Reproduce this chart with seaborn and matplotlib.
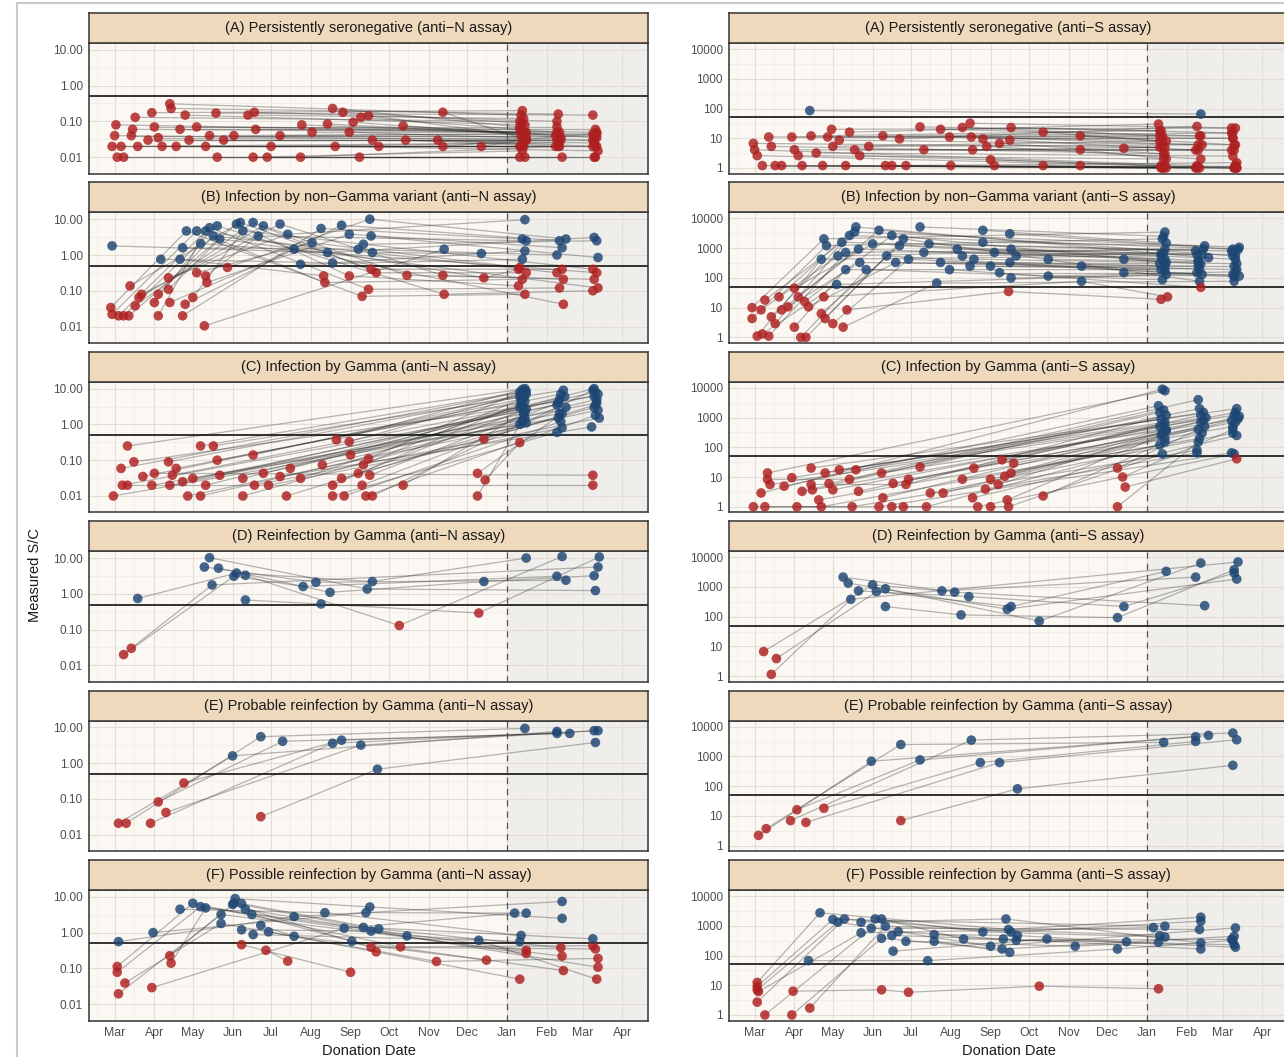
import numpy as np
import pandas as pd
import matplotlib
matplotlib.use("Agg")
import matplotlib.pyplot as plt
import matplotlib.dates as mdates
from matplotlib.ticker import FixedLocator, NullFormatter
from matplotlib.lines import Line2D
import seaborn as sns

# ---------------- data (day = days since 2020-03-01, value = measured S/C) -------------
TITLES_N = ["(A) Persistently seronegative (anti\u2212N assay)",
            "(B) Infection by non\u2212Gamma variant (anti\u2212N assay)",
            "(C) Infection by Gamma (anti\u2212N assay)",
            "(D) Reinfection by Gamma (anti\u2212N assay)",
            "(E) Probable reinfection by Gamma (anti\u2212N assay)",
            "(F) Possible reinfection by Gamma (anti\u2212N assay)"]
TITLES_S = [t.replace("anti\u2212N", "anti\u2212S") for t in TITLES_N]

N_TICKS = [0.01, 0.1, 1, 10]
N_TICK_LABELS = ["0.01", "0.10", "1.00", "10.00"]
S_TICKS = [1, 10, 100, 1000, 10000]
S_TICK_LABELS = ["1", "10", "100", "1000", "10000"]
N_CUTOFF = 0.5
S_CUTOFF = 50

A_N = [[(-2,.02),(316,.02)],[(1,.08),(318,.05)],[(0,.04),(345,.03)],[(2,.01),(375,.01)],
       [(7,.01),(316,.01)],[(5,.02),(373,.02)],[(13,.04),(320,.04)],[(16,.13),(316,.1)],
       [(14,.06),(347,.05)],[(18,.02),(319,.025)],[(26,.03),(374,.03)],[(29,.175),(318,.2)],
       [(31,.07),(345,.07)],[(34,.035),(321,.035)],[(37,.02),(376,.02)],[(43,.31),(317,.15)],
       [(44,.23),(346,.16)],[(48,.02),(317,.02)],[(51,.06),(375,.06)],[(55,.15),(320,.08)],
       [(58,.03),(348,.03)],[(64,.07),(316,.06)],[(71,.02),(344,.02)],[(74,.04),(376,.045)],
       [(79,.17),(373,.15)],[(80,.01),(349,.01)],[(85,.03),(321,.03)],[(93,.04),(374,.04)],
       [(104,.15),(319,.12)],[(109,.18),(345,.1)],[(108,.01),(318,.015)],[(110,.06),(376,.05)],
       [(119,.01),(374,.01)],[(122,.02),(346,.025)],[(129,.04),(320,.045)],[(145,.01),(347,.02)],
       [(146,.08),(375,.04)],[(154,.05),(321,.05)],[(166,.085),(344,.04)],[(170,.23),(316,.07)],
       [(172,.02),(377,.015)],[(178,.18),(318,.09)],[(183,.05),(373,.03)],[(186,.095),(348,.035)],
       [(191,.01),(320,.01)],[(192,.13),(345,.05)],[(198,.145),(317,.04)],[(201,.03),(374,.025)],
       [(206,.02),(319,.02)],[(225,.075),(376,.035)],[(227,.03),(346,.02)],[(252,.03),(375,.02)],
       [(256,.18),(321,.03)],[(256,.02),(373,.045)],[(286,.02),(318,.03)]]

A_S = [[(43,85),(348,65)],
       [(-1,6.7),(316,5)],[(0,4.1),(345,1.2)],[(2,2.6),(374,1.0)],[(6,1.2),(318,1.0)],
       [(11,11),(373,10)],[(13,5.3),(320,3)],[(16,1.2),(347,1.0)],[(21,1.2),(375,1.2)],
       [(29,11),(316,12)],[(31,4.1),(346,4)],[(34,2.6),(319,2)],[(37,1.2),(376,1.0)],
       [(44,12),(317,18)],[(48,3.2),(373,2.5)],[(53,1.2),(321,1.0)],[(57,11),(348,12)],
       [(60,20),(372,22)],[(61,5.3),(318,8)],[(66,8.6),(375,6)],[(71,1.2),(344,1.0)],
       [(74,16),(315,30)],[(78,4.1),(374,4)],[(82,2.6),(320,1.2)],[(89,5.3),(349,6)],
       [(100,12),(373,15)],[(102,1.2),(317,1.0)],[(107,1.2),(376,1.5)],[(113,9.5),(345,25)],
       [(118,1.2),(319,1.0)],[(129,24),(316,18)],[(132,4.1),(372,4)],[(145,20),(347,12)],
       [(152,11),(321,8)],[(153,1.2),(374,1.0)],[(162,23),(318,12)],[(168,32),(375,22)],
       [(169,11),(346,6)],[(170,4.1),(320,5)],[(178,9.5),(373,10)],[(181,5.3),(348,2)],
       [(184,1.9),(317,1.2)],[(187,1.2),(376,1.0)],[(191,6.7),(319,3)],[(199,8.6),(344,4)],
       [(200,23),(372,15)],[(225,16),(316,8)],[(225,1.2),(345,1.0)],[(254,12),(374,6)],
       [(254,4.1),(321,2)],[(254,1.2),(375,1.2)],[(288,4.6),(318,5)]]

B_N = [[(-3,.034),(56,4.7),(193,.07),(320,.08)],[(-2,.022),(64,4.7),(164,.17),(318,.21)],
       [(3,.02),(74,5.8),(198,.11),(347,.12)],[(7,.02),(80,6.5),(257,.08),(373,.1)],
       [(11,.02),(95,7.3),(183,.26),(315,.137)],[(12,.137),(98,8.1),(200,.4),(349,.4)],
       [(16,.038),(108,8.1),(204,.32),(321,.32)],[(19,.065),(116,6.5),(228,.27),(374,.21)],
       [(21,.08),(129,7.3),(256,.27),(350,.21)],[(31,.047),(67,2.1),(376,.32)],
       [(34,.02),(71,4.7),(288,.23),(315,.4)],[(34,.08),(77,3.4),(345,.32)],
       [(42,.23),(135,3.8),(320,9.7)],[(42,.11),(82,2.8),(377,.12)],
       [(43,.047),(140,1.45),(350,.042)],[(53,.02),(161,5.5),(318,2.8)],
       [(55,.042),(177,6.8),(347,2.5)],[(61,.065),(100,4.7),(373,.4)],
       [(64,.32),(154,2.2),(316,.45)],[(71,.26),(112,3.4),(321,2.5)],
       [(72,.17),(183,3.8),(349,1.6)],[(70,.0105),(257,1.45)],
       [(88,.45),(199,10),(352,2.8)],[(-2,1.8),(166,1.17),(374,3.1)],
       [(36,.76),(170,.6),(320,1.3)],[(51,.76),(163,.26)],
       [(53,1.6),(190,1.45),(345,1.0)],[(145,.55),(318,.76)],
       [(194,2.0),(376,2.5)],[(200,3.4),(377,.85)],[(201,1.17),(286,1.1)]]

B_S = [[(-2,10),(54,2060),(320,3500)],[(-2,4.3),(56,1220),(318,2060)],[(2,1.1),(52,425),(317,550)],
       [(6,1.3),(64,60),(321,130)],[(5,8.4),(65,550),(320,930)],[(8,18),(68,1580),(344,820)],
       [(11,1.1),(71,720),(350,930)],[(13,4.9),(74,2680),(373,930)],[(16,2.9),(78,3500),(378,1070)],
       [(19,23),(79,5180),(354,480)],[(21,8.4),(81,930),(320,425)],[(26,10.6),(82,330),(346,250)],
       [(31,45),(92,1400),(375,425)],[(31,2.2),(71,190),(317,190)],[(34,23),(97,4000),(373,550)],
       [(36,1.0),(87,190),(318,87)],[(40,1.0),(103,550),(349,130)],[(39,16),(107,2680),(321,330)],
       [(42,10.6),(110,330),(376,190)],[(52,6.3),(113,1220),(346,380)],[(55,4.3),(116,2060),(347,77)],
       [(61,2.9),(120,425),(378,115)],[(69,2.2),(142,67),(374,77)],[(72,8.4),(198,35),(317,19)],
       [(54,23),(255,77),(322,23)],[(129,5180),(319,2500)],[(132,720),(345,600)],
       [(136,1400),(372,800)],[(145,330),(316,300)],[(152,190),(348,48)],[(158,930),(375,600)],
       [(162,550),(319,700)],[(168,250),(347,200)],[(171,425),(376,300)],[(178,4000),(321,1500)],
       [(178,1580),(351,1200)],[(184,250),(374,250)],[(187,720),(318,400)],[(191,150),(345,150)],
       [(199,3060),(377,900)],[(199,330),(320,250)],[(200,930),(349,600)],[(200,100),(373,130)],
       [(204,550),(317,650)],[(229,425),(346,350)],[(229,115),(375,160)],[(255,250),(320,180)],
       [(288,425),(348,300)],[(288,150),(374,110)]]

C_N = [[(-1,.01),(316,1.0)],[(5,.059),(318,8)],[(6,.02),(345,3.5)],[(10,.25),(320,10)],
       [(10,.02),(373,.02)],[(15,.09),(374,6)],[(22,.035),(317,5)],[(29,.02),(347,2)],
       [(31,.043),(373,.038)],[(42,.09),(321,7)],[(43,.02),(376,4)],[(45,.038),(316,3)],
       [(48,.059),(348,7)],[(53,.025),(319,2.5)],[(57,.01),(377,2.5)],[(61,.031),(346,1.5)],
       [(67,.25),(321,8.5)],[(67,.01),(318,1.2)],[(71,.02),(374,10)],[(77,.25),(350,9)],
       [(80,.1),(317,4)],[(82,.038),(375,8)],[(100,.01),(320,1.5)],[(100,.031),(347,5)],
       [(108,.14),(316,6)],[(109,.02),(378,1.5)],[(116,.043),(319,2)],[(120,.02),(349,.8)],
       [(129,.035),(372,.85)],[(134,.01),(321,1.1)],[(137,.059),(351,6)],[(145,.031),(318,3.5)],
       [(162,.074),(376,5)],[(170,.01),(345,.6)],[(170,.02),(320,4.5)],[(173,.37),(318,9.5)],
       [(177,.031),(374,3)],[(179,.01),(348,1.2)],[(183,.33),(317,7)],[(184,.14),(377,7)],
       [(190,.043),(321,2.7)],[(193,.02),(352,3)],[(194,.074),(319,5.5)],[(196,.01),(375,1.8)],
       [(198,.11),(316,8)],[(199,.038),(346,4)],[(201,.01),(373,9)],[(225,.02),(320,2.2)],
       [(283,.043),(349,2)],[(283,.01),(318,1.3)],[(288,.39),(375,3.5)],[(289,.028),(316,.31)]]

C_S = [[(-1,1.0),(52,1.0),(316,120)],[(5,2.9),(318,9000)],[(8,1.0),(76,1.0),(345,80)],
       [(10,13.7),(320,8000)],[(10,8.4),(74,8.4),(347,2000)],[(12,5.6),(374,1200)],
       [(23,4.9),(315,2500)],[(29,9.5),(350,1500)],[(33,1.0),(97,1.0),(372,65)],
       [(37,3.3),(319,1800)],[(44,20),(376,2000)],[(44,5.6),(118,5.6),(321,1200)],
       [(45,3.7),(348,700)],[(50,1.7),(373,500)],[(55,13.7),(317,900)],[(58,6.0),(346,4000)],
       [(61,3.7),(375,1500)],[(66,17.5),(320,700)],[(79,17.5),(352,1000)],[(81,3.3),(316,500)],
       [(99,13.7),(377,900)],[(100,2.0),(321,400)],[(107,1.0),(134,1.0),(349,300)],
       [(108,6.1),(318,300)],[(116,1.0),(174,1.0),(374,60)],[(120,8.4),(351,500)],
       [(129,22),(316,1500)],[(137,2.9),(373,300)],[(147,2.9),(320,200)],[(162,8.4),(347,200)],
       [(170,2.0),(376,250)],[(171,20),(319,600)],[(180,3.9),(345,65)],
       [(184,1.0),(198,1.0),(318,60)],[(184,8.4),(378,1100)],[(190,5.6),(321,350)],
       [(193,38),(348,1200)],[(195,10.5),(372,800)],[(197,1.7),(317,250)],[(200,13.7),(350,800)],
       [(202,29),(375,700)],[(225,2.3),(320,150)],[(283,20),(346,400)],[(287,10),(373,400)],
       [(289,4.6),(376,41)],[(283,1.0),(346,150)]]

D_N = [[(7,.02),(93,3.1),(147,1.6),(345,3.1)],[(13,.03),(76,1.77),(377,5.6)],
       [(18,.74),(95,3.8),(201,2.2),(321,10)],[(74,10.2),(197,1.36),(375,1.23)],
       [(70,5.6),(157,2.1),(352,2.4)],[(81,5.2),(168,1.1),(288,2.2),(374,3.2)],
       [(102,3.3),(222,.13),(349,11)],[(102,.67),(161,.52),(284,.29),(378,10.7)]]

D_S = [[(7,6.7),(92,1180),(146,740),(344,2150)],[(13,1.15),(75,385),(377,6950)],
       [(17,3.9),(95,700),(200,220),(321,3350)],[(73,1350),(197,180),(376,1850)],
       [(69,2150),(156,670),(351,235)],[(81,740),(167,475),(288,220),(374,2950)],
       [(102,870),(222,71),(348,6400)],[(102,220),(161,115),(283,93),(374,3800)]]

E_N = [[(3,.021),(92,1.6),(345,7.7)],[(9,.021),(114,5.5),(320,9.4)],
       [(28,.021),(170,3.6),(377,8.1)],[(34,.083),(131,4.1),(355,6.8)],
       [(40,.042),(192,3.2),(374,8.1)],[(54,.28),(177,4.4),(345,6.8)],
       [(114,.032),(205,.68),(375,3.8)]]

E_S = [[(3,2.2),(91,685),(344,4600)],[(9,3.7),(114,2500),(319,2950)],
       [(28,6.9),(169,3530),(373,6100)],[(33,16),(129,760),(354,5100)],
       [(40,6.0),(191,620),(376,3630)],[(54,18),(176,620),(344,3180)],
       [(114,6.9),(205,81),(373,500)]]

F_N = [[(2,.113),(61,6.6),(223,.4),(373,.43)],[(2,.078),(67,5.3),(321,.32)],
       [(3,.0195),(83,3.2),(349,.22)],[(8,.039),(83,1.8),(251,.156),(377,.19)],
       [(29,.029),(179,1.33),(312,3.5)],[(43,.226),(92,6.1),(200,.39),(375,.35)],
       [(44,.14),(71,4.9),(321,.26)],[(3,.56),(140,2.8),(349,7.4)],
       [(30,1.0),(196,3.6),(321,3.5)],[(51,4.5),(164,3.6),(317,.83)],
       [(94,8.9),(199,5.2),(349,2.5)],[(93,6.6),(194,1.4),(373,.67)],
       [(99,6.5),(206,1.27),(348,.38)],[(102,4.5),(228,.81),(316,.56)],
       [(107,3.2),(185,.57),(350,.087)],[(99,1.2),(200,1.1),(377,.108)],
       [(108,.88),(284,.61),(376,.05)],[(114,1.6),(140,.79),(290,.17)],
       [(120,1.05),(204,.29),(316,.05)],[(99,.46),(184,.078)],[(118,.32),(135,.16)]]

F_S = [[(2,12.4),(51,2730),(198,750),(348,1950)],[(2,9.1),(61,1630),(320,970)],
       [(2,7.0),(65,1320),(184,205),(375,850)],[(3,6.1),(83,580),(311,870)],
       [(2,2.7),(70,1700),(200,610),(348,1430)],[(8,1.0),(91,830),(347,750)],
       [(29,1.0),(99,380),(193,165),(374,445)],[(30,6.3),(99,7.0),(120,5.8),(222,9.3),(315,7.6)],
       [(43,1.7),(102,970),(316,470)],[(42,67),(135,67),(283,165),(373,325)],
       [(83,1320),(196,1700),(348,265)],[(94,1700),(178,620),(320,420)],
       [(99,1700),(163,360),(374,230)],[(108,140),(228,360),(375,190)],
       [(107,470),(194,360),(348,165)],[(112,640),(204,325),(372,350)],
       [(118,300),(250,205),(315,280)],[(140,505),(205,470),(290,290)],
       [(140,300),(199,128)]]

PANELS_N = [A_N, B_N, C_N, D_N, E_N, F_N]
PANELS_S = [A_S, B_S, C_S, D_S, E_S, F_S]

# ---------------- build long table ----------------
BASE = pd.Timestamp("2020-03-01")
rows = []
for col, (panels, cutoff) in enumerate([(PANELS_N, N_CUTOFF), (PANELS_S, S_CUTOFF)]):
    for r, trajs in enumerate(panels):
        for j, tr in enumerate(trajs):
            for d, v in tr:
                rows.append((r, col, f"{r}_{col}_{j}", d, v, "pos" if v >= cutoff else "neg"))
df = pd.DataFrame(rows, columns=["row", "col", "donor", "day", "value", "status"])
df["date"] = BASE + pd.to_timedelta(df["day"], unit="D")

# ---------------- styling ----------------
sns.set_theme(style="white")
plt.rcParams["font.family"] = ["Liberation Sans", "DejaVu Sans"]

RED = "#AE1F1F"
BLUE = "#1D4673"
STRIP = "#EFD9BD"
PANEL_BG = "#FBF7F2"
SHADE = "#F0EEEB"
TICK_COLOR = "#4D4D4D"

W, H = 1284, 1057
fig = plt.figure(figsize=(W / 100, H / 100), dpi=100)
fig.patch.set_facecolor("white")

XMIN = mdates.date2num(pd.Timestamp("2020-02-10"))
XMAX = mdates.date2num(pd.Timestamp("2021-04-21"))
JAN1 = mdates.date2num(pd.Timestamp("2021-01-01"))

col_x0 = [89, 729]
pw = 559
strip_h = 30
plot_h = 130.5
pitch = 169.4

for col in range(2):
    titles = TITLES_N if col == 0 else TITLES_S
    ticks = N_TICKS if col == 0 else S_TICKS
    tlabels = N_TICK_LABELS if col == 0 else S_TICK_LABELS
    cutoff = N_CUTOFF if col == 0 else S_CUTOFF
    ylim = (0.0035, 15.5) if col == 0 else (0.65, 16000)
    for r in range(6):
        st = 13 + r * pitch
        pt = st + strip_h
        pb = pt + plot_h
        x0 = col_x0[col]
        ax = fig.add_axes([x0 / W, 1 - pb / H, pw / W, plot_h / H])
        sax = fig.add_axes([x0 / W, 1 - pt / H, pw / W, strip_h / H])
        # strip
        sax.set_facecolor(STRIP)
        sax.set_xticks([]); sax.set_yticks([])
        for sp in sax.spines.values():
            sp.set_color("#333333"); sp.set_linewidth(1.1)
        sax.text(0.5, 0.5, titles[r], ha="center", va="center", fontsize=10.5,
                 color="#1A1A1A", transform=sax.transAxes)

        sub = df[(df["row"] == r) & (df["col"] == col)]
        ax.set_facecolor(PANEL_BG)
        ax.set_yscale("log")
        ax.axvspan(JAN1, XMAX, color=SHADE, zorder=0.2, lw=0)
        sns.lineplot(data=sub, x="date", y="value", units="donor", estimator=None,
                     color="#222222", alpha=0.32, lw=0.9, legend=False, ax=ax, zorder=2)
        sns.scatterplot(data=sub, x="date", y="value", hue="status",
                        palette={"neg": RED, "pos": BLUE}, s=48, alpha=0.82,
                        edgecolor="none", legend=False, ax=ax, zorder=3)
        ax.axhline(cutoff, color="#111111", lw=1.2, zorder=2.5)
        ax.axvline(JAN1, color="#555555", lw=0.9, ls=(0, (5, 4)), zorder=2.4)

        ax.set_xlim(XMIN, XMAX)
        ax.set_ylim(*ylim)
        ax.xaxis.set_major_locator(mdates.MonthLocator())
        ax.xaxis.set_minor_locator(mdates.MonthLocator(bymonthday=16))
        ax.xaxis.set_major_formatter(mdates.DateFormatter("%b"))
        ax.yaxis.set_major_locator(FixedLocator(ticks))
        ax.set_yticklabels(tlabels)
        ax.yaxis.set_minor_locator(FixedLocator([t * 10 ** 0.5 for t in [ticks[0] / 10] + ticks]))
        ax.yaxis.set_minor_formatter(NullFormatter())
        ax.set_axisbelow(True)
        ax.grid(which="major", color="#E2DDD7", lw=0.8)
        ax.grid(which="minor", color="#EEEAE5", lw=0.5)
        ax.tick_params(which="minor", length=0)
        ax.tick_params(axis="y", which="major", length=3, width=0.8, color=TICK_COLOR,
                       labelsize=8.5, labelcolor=TICK_COLOR, pad=1.5)
        if r == 5:
            ax.tick_params(axis="x", which="major", length=3, width=0.8, color=TICK_COLOR,
                           labelsize=8.8, labelcolor=TICK_COLOR, pad=2)
            ax.set_xlabel("Donation Date", fontsize=10.5, color="#1A1A1A", labelpad=3)
        else:
            ax.tick_params(axis="x", which="major", length=0, labelbottom=False)
            ax.set_xlabel("")
        ax.set_ylabel("")
        for sp in ax.spines.values():
            sp.set_color("#333333"); sp.set_linewidth(1.1)

fig.text(35 / W, 1 - 575 / H, "Measured S/C", rotation=90, ha="center", va="center",
         fontsize=10.5, color="#1A1A1A")

# light outer frame of the original figure
fig.add_artist(Line2D([17 / W, 1], [1 - 3 / H, 1 - 3 / H], color="#C8C8C8", lw=1.5))
fig.add_artist(Line2D([17 / W, 17 / W], [0, 1 - 3 / H], color="#C8C8C8", lw=1.5))

fig.savefig("out.png", dpi=100, facecolor="white")
